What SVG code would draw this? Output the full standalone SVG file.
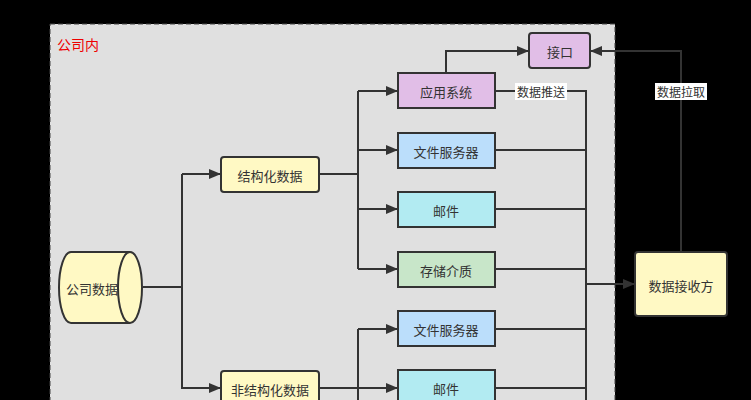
<svg xmlns="http://www.w3.org/2000/svg" width="751" height="400" viewBox="0 0 751 400">
<defs>
<marker id="a" viewBox="0 0 12 10" refX="12" refY="5" markerWidth="12" markerHeight="10" orient="auto" markerUnits="userSpaceOnUse"><path d="M0,0 L12,5 L0,10 z" fill="#333"/></marker>
</defs>
<style>
text{font-family:"Noto Sans CJK SC","Liberation Sans",sans-serif;font-size:13px;fill:#333;text-anchor:middle;dominant-baseline:central}
.n{stroke:#333;stroke-width:2}
.c{fill:none;stroke:#333;stroke-width:2}
.ar{marker-end:url(#a)}
</style>
<rect width="751" height="400" fill="#000"/>
<g id="container"><rect x="50" y="24" width="565" height="400" fill="#e0e0e0" stroke="#444" stroke-dasharray="5,3"/><text x="78" y="44" style="fill:#e00;font-size:14px">公司内</text></g>
<g id="connectors">
<path class="c" d="M143,287 H182 V174"/>
<path class="c ar" d="M182,174 H221"/>
<path class="c ar" d="M182,287 V388 H221"/>
<path class="c" d="M319,174 H358"/>
<path class="c ar" d="M358,91 H398"/><path class="c ar" d="M358,150 H398"/><path class="c ar" d="M358,209 H398"/><path class="c ar" d="M358,269 H398"/>
<path class="c" d="M358,91 V269"/>
<path class="c" d="M319,388 H358"/>
<path class="c" d="M358,329 V400"/>
<path class="c ar" d="M358,329 H398"/><path class="c ar" d="M358,388 H398"/>
<path class="c" d="M495,91 H586 V400"/>
<path class="c" d="M495,150 H586 M495,209 H586 M495,269 H586 M495,329 H586 M495,388 H586"/>
<path class="c ar" d="M586,284 H635"/>
<path class="c ar" d="M446,73 V51 H529"/>
<path class="c ar" d="M681,252 V51 H590"/>
<rect x="515" y="83" width="52" height="17" fill="#fff"/><text x="541" y="91" style="font-size:12px">数据推送</text>
<rect x="655" y="83" width="52" height="17" fill="#fff"/><text x="681" y="91" style="font-size:12px">数据拉取</text>
</g>
<g id="db"><path class="n" fill="#fff9c4" d="M71,252 H130 A12,35.5 0 0 1 130,323 H71 A12,35.5 0 0 1 71,252 Z"/><path class="n" fill="none" d="M130,252 A12,35.5 0 0 0 130,323"/><text x="92" y="288">公司数据</text></g>
<g id="s"><rect class="n" x="221" y="157" width="98" height="35" rx="3" fill="#fff9c4"/><text x="270" y="175">结构化数据</text></g>
<g id="u"><rect class="n" x="221" y="371" width="98" height="35" rx="3" fill="#fff9c4"/><text x="270" y="389">非结构化数据</text></g>
<g id="app"><rect class="n" x="398" y="73" width="97" height="35" fill="#e1bee7"/><text x="446" y="91">应用系统</text></g>
<g id="fs1"><rect class="n" x="398" y="133" width="97" height="35" fill="#bbdefb"/><text x="446" y="151">文件服务器</text></g>
<g id="m1"><rect class="n" x="398" y="192" width="97" height="35" fill="#b2ebf2"/><text x="446" y="210">邮件</text></g>
<g id="st"><rect class="n" x="398" y="252" width="97" height="35" fill="#c8e6c9"/><text x="446" y="270">存储介质</text></g>
<g id="fs2"><rect class="n" x="398" y="311" width="97" height="35" fill="#bbdefb"/><text x="446" y="329">文件服务器</text></g>
<g id="m2"><rect class="n" x="398" y="370" width="97" height="35" fill="#b2ebf2"/><text x="446" y="388">邮件</text></g>
<g id="api"><rect class="n" x="529" y="33" width="61" height="35" rx="3" fill="#e1bee7"/><text x="560" y="51">接口</text></g>
<g id="recv"><rect class="n" x="635" y="252" width="92" height="64" rx="3" fill="#fff9c4"/><text x="681" y="285">数据接收方</text></g>
</svg>
